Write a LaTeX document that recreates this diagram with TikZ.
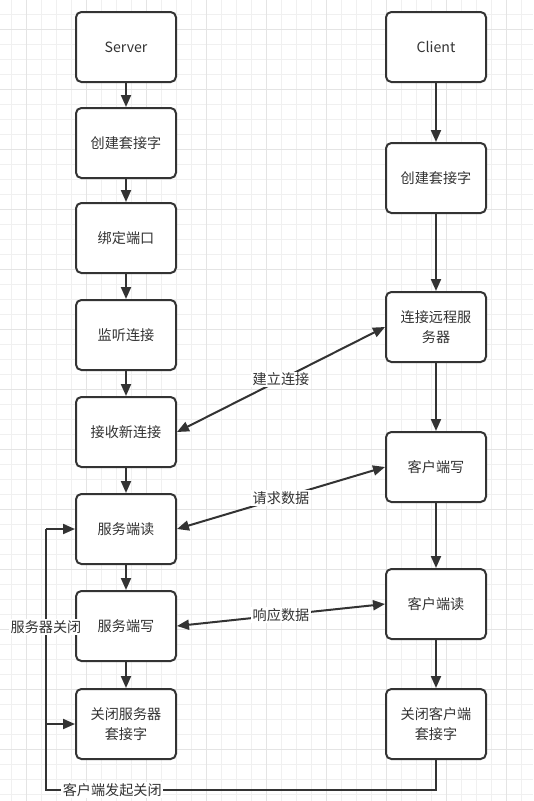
\documentclass[tikz,border=0pt]{standalone}
\usepackage{fontspec}
\setmainfont{Noto Sans CJK SC}
\usetikzlibrary{arrows.meta}
\definecolor{ink}{HTML}{333333}
\definecolor{gridminor}{HTML}{F0F0F0}
\definecolor{gridmajor}{HTML}{E4E4E4}
\tikzset{
  box/.style={draw=ink, line width=1.5pt, rounded corners=4pt, fill=white, minimum width=75pt, minimum height=52.5pt, inner sep=0pt, align=center, font=\fontsize{10.6pt}{15pt}\selectfont, text=ink},
  flow/.style={draw=ink, line width=1.5pt, -{Triangle[length=9pt,width=7.5pt]}},
  both/.style={draw=ink, line width=1.5pt, {Triangle[length=9pt,width=7.5pt]}-{Triangle[length=9pt,width=7.5pt]}},
  plain/.style={draw=ink, line width=1.5pt},
  lbl/.style={fill=white, inner sep=1pt, font=\fontsize{10.6pt}{13pt}\selectfont, text=ink},
}
\begin{document}
\begin{tikzpicture}[x=0.75pt, y=-0.75pt]
\useasboundingbox (0,0) rectangle (533,801);
\fill[white] (0,0) rectangle (533,801);
% grid
\foreach \gx in {0,...,35} {
  \pgfmathsetmacro\xx{11.7+15*\gx}
  \draw[gridminor, line width=0.75pt] (\xx,0) -- (\xx,801);
}
\foreach \gy in {0,...,53} {
  \pgfmathsetmacro\yy{14+15*\gy}
  \draw[gridminor, line width=0.75pt] (0,\yy) -- (533,\yy);
}
\foreach \gx in {0,...,8} {
  \pgfmathsetmacro\xx{26.7+60*\gx}
  \draw[gridmajor, line width=0.75pt] (\xx,0) -- (\xx,801);
}
\foreach \gy in {0,...,13} {
  \pgfmathsetmacro\yy{29+60*\gy}
  \draw[gridmajor, line width=0.75pt] (0,\yy) -- (533,\yy);
}
% left column
\node[box] (server) at (126,47) {Server};
\node[box] (screate) at (126,143) {创建套接字};
\node[box] (bind) at (126,238) {绑定端口};
\node[box] (listen) at (126,335) {监听连接};
\node[box] (accept) at (126,432) {接收新连接};
\node[box] (sread) at (126,529) {服务端读};
\node[box] (swrite) at (126,626) {服务端写};
\node[box] (sclose) at (126,724) {关闭服务器\\套接字};
% right column
\node[box] (client) at (436,47) {Client};
\node[box] (ccreate) at (436,178) {创建套接字};
\node[box] (connect) at (436,327) {连接远程服\\务器};
\node[box] (cwrite) at (436,467) {客户端写};
\node[box] (cread) at (436,604) {客户端读};
\node[box] (cclose) at (436,724) {关闭客户端\\套接字};
% vertical flows
\draw[flow] (server) -- (screate);
\draw[flow] (screate) -- (bind);
\draw[flow] (bind) -- (listen);
\draw[flow] (listen) -- (accept);
\draw[flow] (accept) -- (sread);
\draw[flow] (sread) -- (swrite);
\draw[flow] (swrite) -- (sclose);
\draw[flow] (client) -- (ccreate);
\draw[flow] (ccreate) -- (connect);
\draw[flow] (connect) -- (cwrite);
\draw[flow] (cwrite) -- (cread);
\draw[flow] (cread) -- (cclose);
% cross arrows
\draw[both] (accept.east) -- node[lbl] {建立连接} (connect.west);
\draw[both] (sread.east) -- node[lbl] {请求数据} (cwrite.west);
\draw[both] (swrite.east) -- node[lbl] {响应数据} (cread.west);
% close loop
\coordinate (c1) at (436,790);
\coordinate (c2) at (46,790);
\coordinate (c3) at (46,529);
\coordinate (c4) at (46,724);
\draw[plain] (cclose.south) -- (c1) -- node[lbl, pos=0.83] {客户端发起关闭} (c2) -- (c3);
\draw[flow] (c3) -- (sread.west);
\draw[flow] (c4) -- (sclose.west);
\node[lbl] (closelbl) at (46,627) {服务器关闭};
\end{tikzpicture}
\end{document}
